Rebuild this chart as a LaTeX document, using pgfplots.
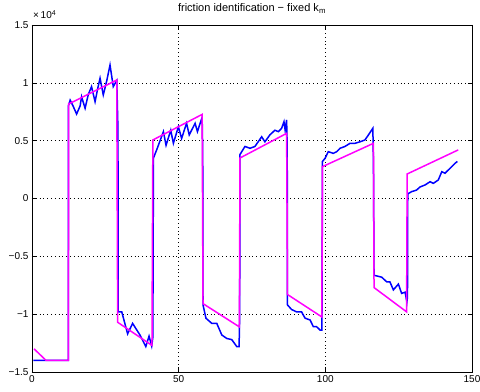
\documentclass[border=0pt]{standalone}
\usepackage{fontspec}
\setmainfont{Liberation Sans}
\usepackage{pgfplots}
\pgfplotsset{compat=1.18}
\definecolor{mblue}{rgb}{0,0,1}
\definecolor{mmag}{rgb}{1,0,1}
\begin{document}
\begin{tikzpicture}
\begin{axis}[
  scale only axis,
  width=440pt, height=347pt,
  xmin=0, xmax=150, ymin=-1.5, ymax=1.5,
  xtick={0,50,100,150},
  ytick={-1.5,-1,-0.5,0,0.5,1,1.5},
  yticklabels={−1.5,−1,−0.5,0,0.5,1,1.5},
  xticklabels={0,50,100,150},
  tick label style={font=\fontsize{10}{11}\selectfont},
  /pgf/number format/assume math mode=true,
  grid=major,
  grid style={black, line width=0.6pt, dash pattern=on 0.8pt off 3pt},
  axis line style={black, line width=0.6pt},
  major tick length=4pt,
  tick style={black, line width=0.6pt},
  title={friction identification − fixed k\textsubscript{m}},
  title style={font=\fontsize{11}{12}\selectfont, yshift=2pt},
  clip mode=individual,
]
\addplot[mblue, line width=1.5pt] coordinates {
(0.5,-1.40) (4,-1.40) (12.4,-1.40) (12.4,0.80) (13,0.85) (14,0.80) (15.2,0.73) (16.4,0.80) (16.9,0.88) (18.1,0.78) (19.2,0.90) (20.3,0.967) (21.5,0.837) (22.4,0.95) (23.2,1.04) (24.3,0.895) (25.5,1.02) (26.6,1.154) (27.7,0.967) (28.9,1.02)
(29.3,0.60) (29.4,-0.98) (30.6,-0.98) (32.6,-1.17) (34.3,-1.08) (36.8,-1.18) (38.8,-1.28) (39.9,-1.19) (40.8,-1.275)
(41.2,-1.20) (41.4,0.35) (42.5,0.42) (44.8,0.578) (45.7,0.46) (47.3,0.59) (48.2,0.477) (49.9,0.62) (51,0.52) (52.7,0.65) (53.6,0.55) (55.6,0.65) (56.4,0.578) (57.5,0.664) (58.0,0.70)
(58.2,0.40) (58.3,-0.92) (59.3,-1.035) (61.3,-1.08) (63,-1.08) (64.7,-1.18) (66.4,-1.21) (68.1,-1.22) (69.8,-1.28) (70.6,-1.28)
(70.8,-1.0) (70.9,0.38) (72.6,0.45) (74.3,0.434) (76,0.45) (78.3,0.534) (79.4,0.49) (81.1,0.55) (82.8,0.59) (84,0.578) (85.1,0.607) (85.9,0.664) (86.3,0.59) (86.8,0.68)
(87.0,0.45) (87.1,-0.92) (88.5,-0.96) (90.2,-0.98) (91.9,-0.98) (93.1,-1.035) (94.8,-1.05) (95.9,-1.108) (97,-1.108) (98.2,-1.137) (98.8,-1.137)
(98.9,-0.9) (99.0,0.32) (99.9,0.347) (101,0.405) (102.7,0.39) (103.9,0.405) (105,0.434) (106.7,0.45) (108.4,0.477) (110.1,0.477) (111.8,0.49) (113.5,0.506) (114.7,0.55) (116.2,0.607)
(116.4,0.30) (116.6,-0.664) (119.2,-0.68) (120.9,-0.72) (122,-0.72) (123.2,-0.79) (124.9,-0.74) (126,-0.82) (127.2,-0.81) (127.8,-0.895)
(128.0,-0.85) (128.1,0.04) (129.4,0.059) (131.1,0.073) (132.3,0.10) (134,0.117) (135.7,0.145) (136.8,0.131) (138.5,0.16) (139.7,0.232) (140.8,0.218) (142.5,0.261) (144.2,0.304) (145,0.32)
};
\addplot[mmag, line width=1.5pt] coordinates {
(0.7,-1.30) (4.8,-1.40) (12.4,-1.40) (12.5,0.817) (28.9,1.024) (29.2,-1.07) (40.9,-1.27) (41.2,0.506) (58.0,0.727) (58.3,-0.909) (70.7,-1.11) (70.9,0.35) (86.8,0.563) (87.1,-0.83) (98.8,-1.024) (99.0,0.275) (116.4,0.477) (116.6,-0.77) (127.7,-0.98) (127.9,0.212) (145.3,0.42)
};
\node[anchor=base west, inner sep=0pt, font=\fontsize{10}{11}\selectfont] at (rel axis cs:0,1) [xshift=1pt, yshift=6pt] {×\,10\textsuperscript{4}};
\end{axis}
\pgfresetboundingbox
\path ([xshift=-32pt,yshift=-20pt]current axis.south west) rectangle ([xshift=8pt,yshift=25pt]current axis.north east);
\end{tikzpicture}
\end{document}
